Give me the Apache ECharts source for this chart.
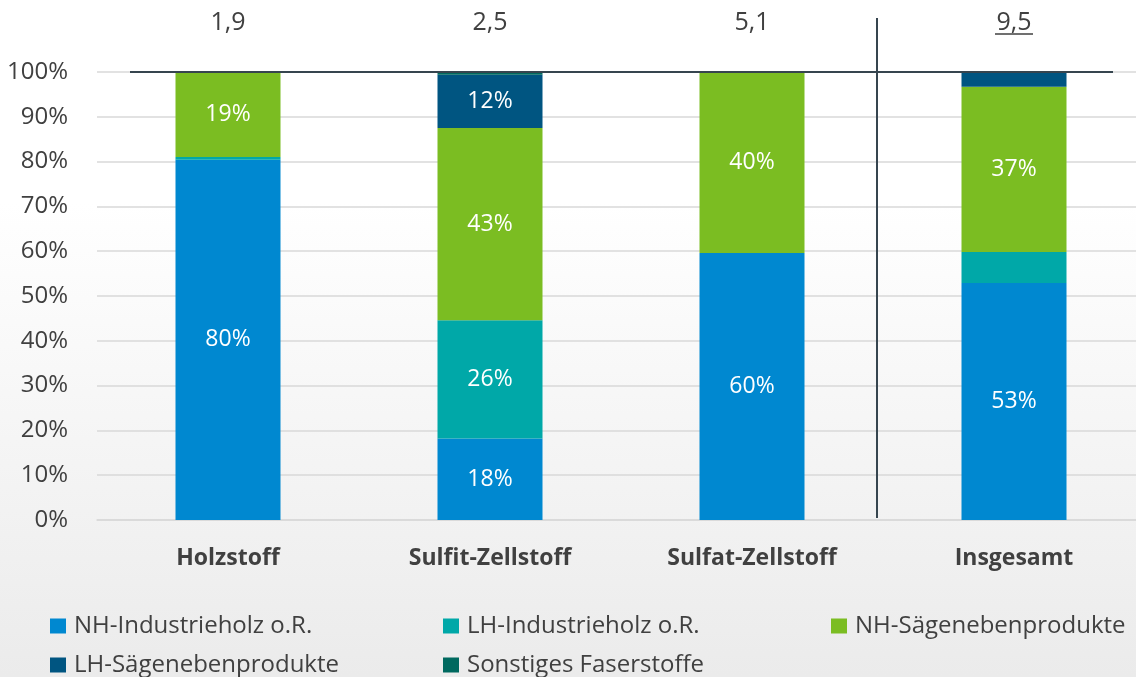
<html>
<head>
    <meta charset="utf-8" />
    <title>Holzeinsatz nach Faserstoffart</title>
    <script src="https://cdn.jsdelivr.net/npm/echarts@6/dist/echarts.min.js"></script>
</head>
<body style="margin:0;overflow:hidden">
    <!-- slightly wider than the window: the last band runs past the right edge like in the original -->
    <div id="chart" style="width:1145px;height:677px;"></div>
    <script type="text/javascript">
        // categories and totals (shown above the bars)
        var categories = ['Holzstoff', 'Sulfit-Zellstoff', 'Sulfat-Zellstoff', 'Insgesamt'];
        var totals = ['1,9', '2,5', '5,1', '9,5'];

        // shares in percent
        var nhIndustrie = [80.4, 18.2, 59.6, 52.9];
        var lhIndustrie = [0.6, 26.4, 0, 6.9];
        var nhSaege = [19.0, 42.9, 40.4, 36.9];
        var lhSaege = [0, 11.9, 0, 3.1];
        var sonstige = [0, 0.6, 0, 0.2];

        var seriesNames = ['NH-Industrieholz o.R.', 'LH-Industrieholz o.R.', 'NH-Sägenebenprodukte',
            'LH-Sägenebenprodukte', 'Sonstiges Faserstoffe'];

        var textColor = '#404040';
        var fontName = 'Open Sans';

        var chart = echarts.init(document.getElementById('chart'));

        function barSeries(name, values, color) {
            return {
                name: name,
                type: 'bar',
                stack: 'total',
                barWidth: 105,
                data: values,
                itemStyle: { color: color },
                label: {
                    show: true,
                    color: '#ffffff',
                    fontSize: 23,
                    fontFamily: fontName,
                    formatter: function (p) {
                        return p.value >= 10 ? Math.round(p.value) + '%' : '';
                    }
                }
            };
        }

        // one legend per entry so the entries sit in fixed columns
        var legendPos = [[45, 608], [438, 608], [826, 608], [45, 647], [438, 647]];
        var legends = seriesNames.map(function (name, i) {
            return {
                left: legendPos[i][0], top: legendPos[i][1],
                itemWidth: 16, itemHeight: 15, icon: 'rect',
                textStyle: {
                    color: textColor, fontSize: 24, fontFamily: fontName,
                    lineHeight: 26, padding: [0, 0, 0, 3]
                },
                data: [name]
            };
        });

        var option = {
            backgroundColor: {
                type: 'linear', x: 0, y: 0, x2: 0, y2: 1,
                colorStops: [
                    { offset: 0, color: '#ffffff' },
                    { offset: 0.3, color: '#ffffff' },
                    { offset: 1, color: '#ebebeb' }
                ]
            },
            animation: false,
            grid: { left: 97, right: 0, top: 72, bottom: 157 },
            legend: legends,
            xAxis: [
                {
                    type: 'category',
                    data: categories,
                    axisLine: { lineStyle: { color: '#d9d9d9', width: 1.5 } },
                    axisTick: { show: false },
                    axisLabel: {
                        color: textColor, fontSize: 23, fontWeight: 'bold',
                        fontFamily: fontName, margin: 27
                    }
                },
                {
                    type: 'category',
                    position: 'top',
                    data: totals,
                    axisLine: { show: false },
                    axisTick: { show: false },
                    axisLabel: { color: textColor, fontSize: 25, fontFamily: fontName, margin: 37 }
                }
            ],
            yAxis: {
                type: 'value',
                min: 0,
                max: 100,
                interval: 10,
                axisLabel: {
                    formatter: '{value}%', color: textColor, fontSize: 24,
                    fontFamily: fontName, margin: 29
                },
                splitLine: { lineStyle: { color: '#d9d9d9', width: 1.5 } }
            },
            series: [
                barSeries(seriesNames[0], nhIndustrie, '#0088d0'),
                barSeries(seriesNames[1], lhIndustrie, '#00a8a8'),
                barSeries(seriesNames[2], nhSaege, '#7bbd22'),
                barSeries(seriesNames[3], lhSaege, '#005581'),
                barSeries(seriesNames[4], sonstige, '#00695f')
            ]
        };
        chart.setOption(option);

        // separator, 100% line and underline of the overall total
        var y100 = chart.convertToPixel({ yAxisIndex: 0 }, 100);
        var y0 = chart.convertToPixel({ yAxisIndex: 0 }, 0);
        var x1 = chart.convertToPixel({ xAxisIndex: 0 }, categories[0]);
        var x3 = chart.convertToPixel({ xAxisIndex: 0 }, categories[2]);
        var x4 = chart.convertToPixel({ xAxisIndex: 0 }, categories[3]);
        var sepX = (x3 + x4) / 2 - 6;
        chart.setOption({
            graphic: [
                {
                    type: 'line', silent: true, z: 100,
                    shape: { x1: x1 - 98, y1: y100, x2: x4 + 99, y2: y100 },
                    style: { stroke: '#36454f', lineWidth: 2 }
                },
                {
                    type: 'line', silent: true, z: 100,
                    shape: { x1: sepX, y1: 18, x2: sepX, y2: y0 - 2 },
                    style: { stroke: '#36454f', lineWidth: 2 }
                },
                {
                    type: 'line', silent: true, z: 100,
                    shape: { x1: x4 - 19, y1: 34, x2: x4 + 19, y2: 34 },
                    style: { stroke: textColor, lineWidth: 1.5 }
                }
            ]
        });
    </script>
</body>
</html>
